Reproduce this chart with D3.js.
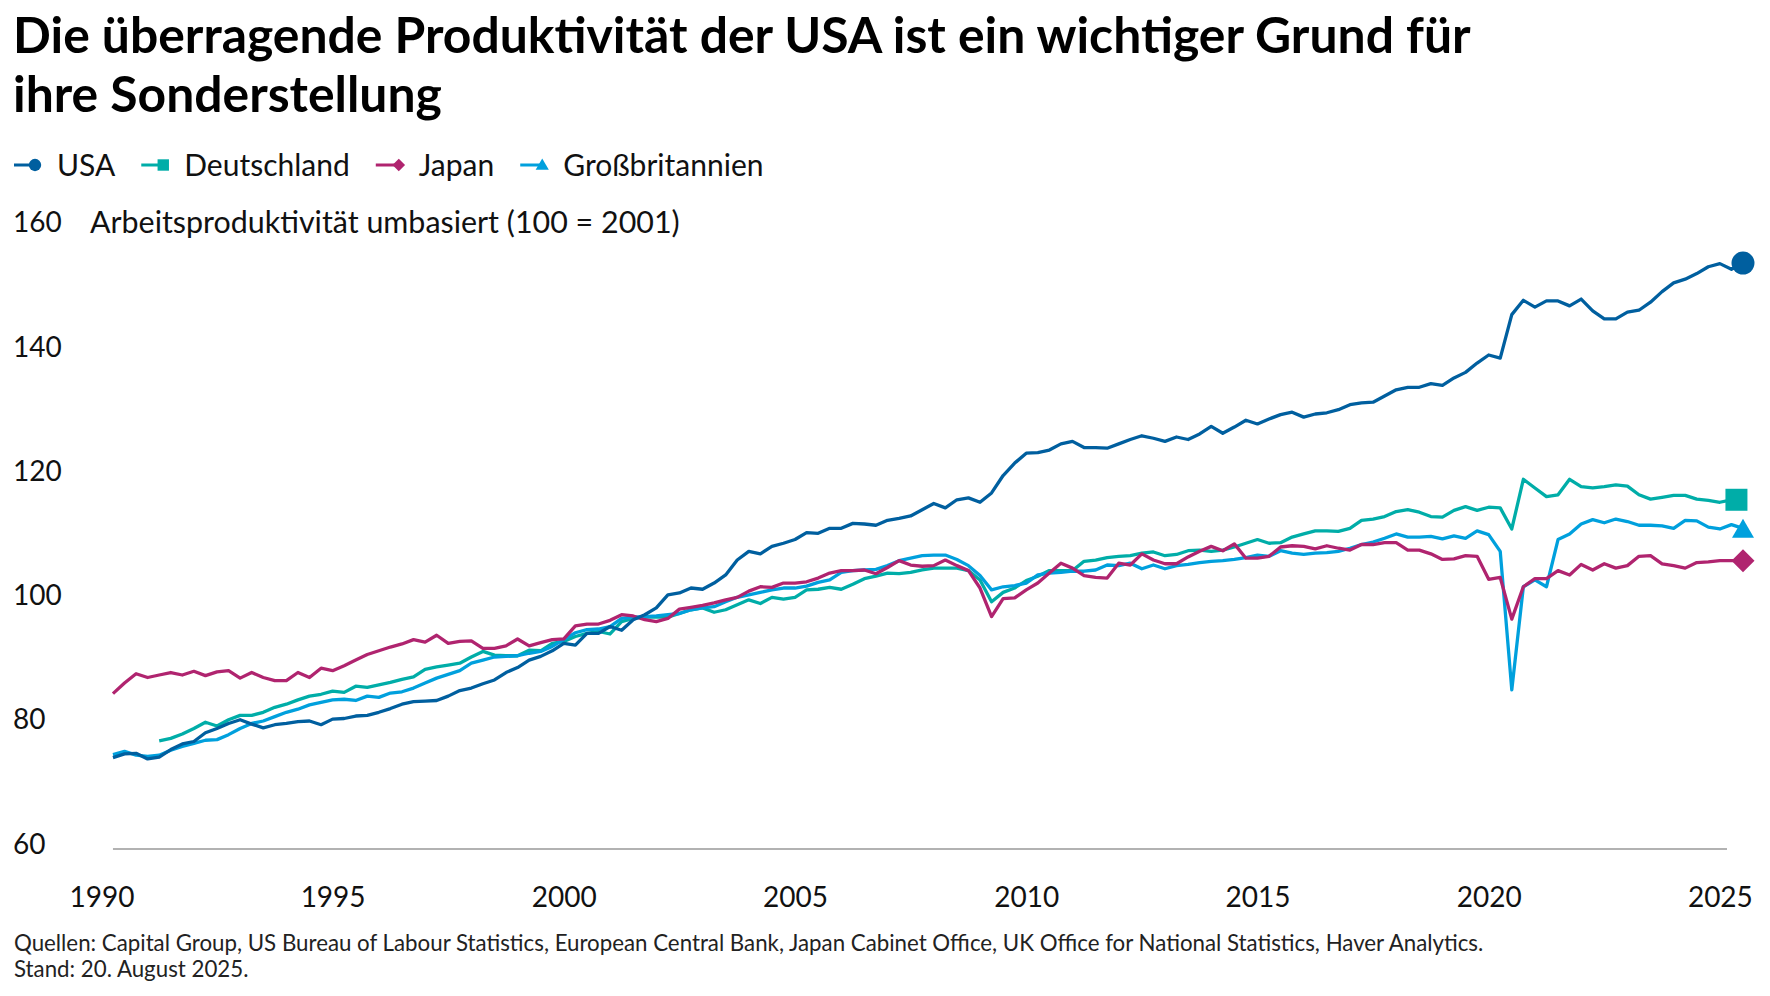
<html>
<head>
<meta charset="utf-8">
<script src="https://d3js.org/d3.v7.min.js"></script>
<style>
  body { margin: 0; background: white; }
  svg { display: block; font-family: Lato, "Open Sans", sans-serif; }
  .tick text { fill: #111; }
</style>
</head>
<body>
<svg width="1770" height="996"></svg>
<script>
// quarterly data, first quarter = 1990 Q1
var firstYear = 1990;
var yTicks = [60, 80, 100, 120, 140, 160];
var xTicks = [1990, 1995, 2000, 2005, 2010, 2015, 2020, 2025];
var seriesNames = ["USA", "Deutschland", "Japan", "Großbritannien"];

var usa = [73.8,74.4,74.5,73.6,73.9,75.1,76.0,76.4,77.8,78.5,79.3,79.9,79.2,78.6,79.1,79.3,
  79.6,79.7,79.1,80.0,80.1,80.5,80.6,81.1,81.7,82.4,82.8,82.9,83.0,83.7,84.6,85.0,
  85.7,86.3,87.5,88.3,89.5,90.1,91.0,92.2,91.9,93.8,93.8,94.9,94.3,96.0,96.8,97.9,
  100.0,100.3,101.1,100.9,101.9,103.2,105.6,107.0,106.6,107.8,108.3,108.9,110.0,109.9,110.7,110.7,
  111.5,111.4,111.2,112.0,112.3,112.7,113.7,114.7,114.0,115.3,115.6,114.9,116.4,119.2,121.2,122.8,
  122.9,123.3,124.3,124.7,123.7,123.7,123.6,124.3,125.0,125.6,125.2,124.7,125.4,125.0,125.9,127.1,
  126.0,127.0,128.1,127.5,128.3,129.0,129.4,128.6,129.1,129.3,129.8,130.6,130.9,131.0,132.0,133.0,
  133.4,133.4,134.0,133.7,134.9,135.8,137.3,138.6,138.1,145.1,147.4,146.3,147.3,147.3,146.5,147.6,
  145.7,144.4,144.4,145.5,145.8,147.1,148.8,150.2,150.8,151.7,152.8,153.3,152.4,153.4];

var deutschland = [null,null,null,null,76.5,76.9,77.6,78.5,79.5,78.9,79.9,80.6,80.6,81.1,81.9,82.4,
  83.1,83.7,84.0,84.5,84.3,85.3,85.1,85.5,85.9,86.4,86.8,88.0,88.4,88.7,89.0,90.0,
  90.9,90.3,90.2,90.2,91.1,91.0,92.2,92.5,93.3,93.8,94.1,93.7,95.7,96.2,96.4,96.4,
  96.4,97.0,97.6,97.9,97.2,97.6,98.4,99.2,98.6,99.6,99.3,99.6,100.8,100.9,101.2,100.9,
  101.7,102.6,103.0,103.5,103.4,103.6,104.0,104.3,104.3,104.3,103.9,102.4,98.9,100.4,101.1,102.3,
  103.0,103.9,103.9,103.9,105.4,105.6,106.0,106.2,106.3,106.7,106.9,106.3,106.5,107.1,107.2,107.0,
  107.2,107.7,108.3,108.9,108.3,108.4,109.3,109.8,110.3,110.3,110.2,110.7,112.0,112.2,112.6,113.4,
  113.7,113.3,112.6,112.5,113.6,114.2,113.6,114.1,114.0,110.6,118.6,117.2,115.8,116.1,118.6,117.4,
  117.2,117.4,117.7,117.5,116.1,115.4,115.7,116.0,116.0,115.4,115.2,114.9,115.3];

var japan = [84.1,85.8,87.3,86.7,87.1,87.5,87.1,87.7,87.0,87.6,87.8,86.6,87.5,86.7,86.2,86.2,
  87.5,86.7,88.2,87.8,88.6,89.5,90.4,91.0,91.6,92.1,92.8,92.4,93.5,92.2,92.5,92.6,
  91.4,91.4,91.8,92.9,91.8,92.3,92.8,92.9,95.0,95.3,95.3,95.9,96.8,96.6,96.0,95.7,
  96.2,97.7,98.0,98.3,98.7,99.2,99.6,100.6,101.3,101.2,101.9,101.9,102.1,102.7,103.5,103.9,
  103.9,104.0,103.4,104.4,105.5,104.8,104.6,104.7,105.6,104.7,103.9,101.1,96.5,99.4,99.5,100.8,
  101.9,103.5,105.1,104.3,103.1,102.8,102.7,105.1,104.8,106.6,105.6,105.0,105.0,106.1,107.0,107.8,
  107.1,108.2,105.9,105.9,106.2,107.7,107.9,107.8,107.4,107.9,107.5,107.2,108.1,108.1,108.4,108.4,
  107.2,107.2,106.6,105.7,105.8,106.3,106.2,102.5,102.8,96.1,101.3,102.6,102.6,103.9,103.2,104.9,
  104.0,105.0,104.3,104.7,106.2,106.3,105.0,104.7,104.3,105.2,105.3,105.5,105.5,105.5];

var grossbritannien = [74.3,74.8,74.2,74.0,74.2,75.0,75.6,76.1,76.6,76.7,77.5,78.5,79.3,79.7,80.4,81.1,
  81.6,82.3,82.7,83.1,83.2,83.0,83.7,83.5,84.2,84.4,85.0,85.8,86.6,87.2,87.8,89.0,
  89.5,90.0,90.1,90.2,90.6,90.9,91.7,92.8,93.9,94.4,94.5,94.9,96.2,96.4,96.5,96.6,
  96.8,97.0,97.6,97.9,98.1,98.9,99.6,100.0,100.4,100.8,101.1,101.1,101.4,102.0,102.4,103.6,
  103.9,104.0,104.1,104.7,105.5,105.9,106.3,106.4,106.4,105.7,104.7,103.1,100.8,101.3,101.5,101.9,
  103.2,103.5,103.6,103.8,103.8,104.0,104.8,104.7,105.1,104.2,104.8,104.2,104.7,104.9,105.2,105.4,
  105.5,105.7,106.0,106.4,106.2,107.1,106.7,106.5,106.7,106.8,107.0,107.5,108.1,108.5,109.1,109.8,
  109.3,109.3,109.4,109.0,109.5,109.1,110.3,109.7,107.0,84.7,101.3,102.4,101.3,108.9,109.8,111.4,
  112.1,111.6,112.2,111.8,111.2,111.2,111.1,110.7,112.0,111.9,110.9,110.6,111.3,110.7];

var colors = { "USA": "#005f9f", "Deutschland": "#00ada8", "Japan": "#b0246f", "Großbritannien": "#00a0dd" };
var values = { "USA": usa, "Deutschland": deutschland, "Japan": japan, "Großbritannien": grossbritannien };

var svg = d3.select("svg");

// quarter end position: Q1 -> firstYear + 0.25
function qTime(i) { return firstYear + 0.25 * (i + 1); }

var x = d3.scaleLinear().domain([1990, 2025.5]).range([101.4, 1743]);
var y = d3.scaleLinear().domain([59.1, 160]).range([849, 222]);

function fit(sel, target) {
  var size = +sel.attr("font-size");
  var w = sel.node().getComputedTextLength();
  sel.attr("font-size", size * target / w);
  return size * target / w;
}

// title
var t1 = svg.append("text").attr("x", 13).attr("y", 53).attr("font-size", 44).attr("font-weight", 700)
  .attr("fill", "#000").text("Die überragende Produktivität der USA ist ein wichtiger Grund für");
var ts = fit(t1, 1458);
svg.append("text").attr("x", 13).attr("y", 112).attr("font-size", ts).attr("font-weight", 700)
  .attr("fill", "#000").text("ihre Sonderstellung");

// legend
var lx = 14;
seriesNames.forEach(function(name) {
  var g = svg.append("g").attr("transform", "translate(" + lx + ",165)");
  g.append("line").attr("x1", 0).attr("x2", 22).attr("stroke", colors[name]).attr("stroke-width", 3);
  var sym = g.append("path").attr("fill", colors[name]);
  if (name == "USA") sym.attr("d", d3.symbol(d3.symbolCircle, 120)()).attr("transform", "translate(21,0)");
  if (name == "Deutschland") sym.attr("d", d3.symbol(d3.symbolSquare, 130)()).attr("transform", "translate(22,0)");
  if (name == "Japan") sym.attr("d", d3.symbol(d3.symbolSquare, 80)()).attr("transform", "translate(23,0) rotate(45)");
  if (name == "Großbritannien") sym.attr("d", d3.symbol(d3.symbolTriangle, 75)()).attr("transform", "translate(22,1)");
  var txt = g.append("text").attr("x", 43).attr("dy", "0.35em").attr("font-size", 30).attr("fill", "#111").text(name);
  lx += 43 + txt.node().getComputedTextLength() + 26;
});

// y axis labels
svg.append("g").attr("transform", "translate(13,0)")
  .call(d3.axisRight(y).tickValues(yTicks).tickSize(0).tickPadding(0))
  .call(function(g) { g.select(".domain").remove(); })
  .selectAll("text").attr("font-size", 28).attr("font-family", "Lato").attr("dy", "0.35em");

var sub = svg.append("text").attr("x", 90).attr("y", y(160)).attr("dy", "0.35em").attr("font-size", 27)
  .attr("fill", "#111").text("Arbeitsproduktivität umbasiert (100 = 2001)");
fit(sub, 590);

// x axis labels
svg.append("g").attr("transform", "translate(0,897)")
  .call(d3.axisBottom(x).tickValues(xTicks).tickFormat(d3.format("d")).tickSize(0).tickPadding(0))
  .call(function(g) { g.select(".domain").remove(); })
  .selectAll("text").attr("font-size", 28).attr("font-family", "Lato").attr("dy", "0.35em");

// baseline
svg.append("line")
  .attr("x1", x(qTime(0))).attr("x2", x(qTime(usa.length - 1)) - 16)
  .attr("y1", y.range()[0]).attr("y2", y.range()[0])
  .attr("stroke", "#999").attr("stroke-width", 1.5);

// lines
var line = d3.line()
  .defined(function(d) { return d != null; })
  .x(function(d, i) { return x(qTime(i)); })
  .y(function(d) { return y(d); });

["Deutschland", "Großbritannien", "Japan", "USA"].forEach(function(name) {
  svg.append("path").datum(values[name])
    .attr("d", line)
    .attr("fill", "none")
    .attr("stroke", colors[name])
    .attr("stroke-width", 3.3)
    .attr("stroke-linejoin", "round");
});

// end markers
function lastIndex(arr) { for (var i = arr.length - 1; i >= 0; i--) if (arr[i] != null) return i; }
seriesNames.forEach(function(name) {
  var arr = values[name];
  var i = lastIndex(arr);
  var cx = x(qTime(i)), cy = y(arr[i]);
  var p = svg.append("path").attr("fill", colors[name]);
  if (name == "USA") p.attr("d", d3.symbol(d3.symbolCircle, 415)()).attr("transform", "translate(" + cx + "," + cy + ")");
  if (name == "Deutschland") p.attr("d", d3.symbol(d3.symbolSquare, 484)()).attr("transform", "translate(" + (cx + 5) + "," + cy + ")");
  if (name == "Japan") p.attr("d", d3.symbol(d3.symbolSquare, 265)()).attr("transform", "translate(" + cx + "," + cy + ") rotate(45)");
  if (name == "Großbritannien") p.attr("d", d3.symbol(d3.symbolTriangle, 209)()).attr("transform", "translate(" + cx + "," + (cy + 3) + ")");
});

// footer
var f1 = svg.append("text").attr("x", 14).attr("y", 943).attr("dy", "0.35em").attr("font-size", 20).attr("fill", "#222")
  .text("Quellen: Capital Group, US Bureau of Labour Statistics, European Central Bank, Japan Cabinet Office, UK Office for National Statistics, Haver Analytics.");
var fs = fit(f1, 1470);
svg.append("text").attr("x", 14).attr("y", 969).attr("dy", "0.35em").attr("font-size", fs).attr("fill", "#222")
  .text("Stand: 20. August 2025.");
</script>
</body>
</html>
